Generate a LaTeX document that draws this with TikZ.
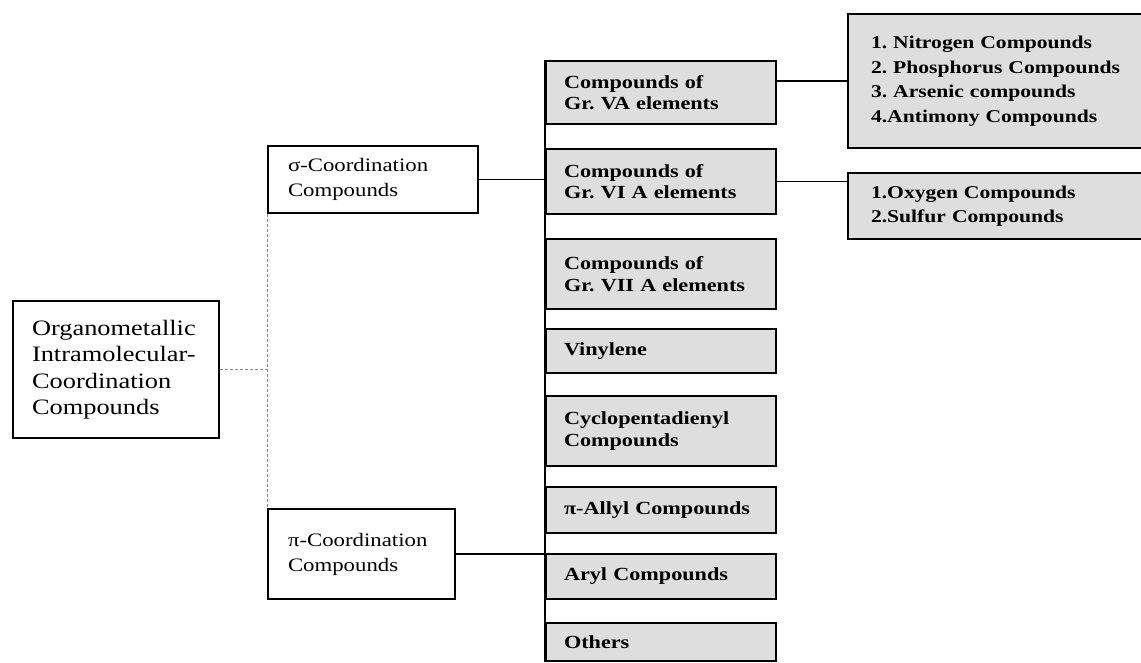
\documentclass[tikz,border=0pt]{standalone}
\usepackage{fontspec}
\setmainfont[FakeStretch=1.2]{Liberation Serif}
\usetikzlibrary{positioning}
\frenchspacing
\begin{document}
\begin{tikzpicture}[x=1pt, y=-1pt,
   plain/.style={draw, line width=2pt, anchor=north west, align=left,
                 inner xsep=20pt, inner ysep=2pt, font=\fontsize{19}{25}\selectfont},
   grey/.style={plain, fill=black!13, inner xsep=18pt, text width=194pt,
                font=\fontsize{18.5}{21.5}\selectfont\bfseries},
   wide/.style={grey, text width=263pt, inner xsep=23pt, font=\fontsize{18}{24.5}\selectfont\bfseries},
   link/.style={line width=1.6pt},
   faint/.style={black!45, line width=0.9pt, densely dashed}]
  \useasboundingbox (0,0) rectangle (1141,662);
  \clip (0,0) rectangle (1141,662);
  \node[plain, text width=168pt, inner xsep=19pt, minimum height=137pt, font=\fontsize{22}{26.5}\selectfont] (org) at (12,300)
       {Organometallic\\Intramolecular-\\Coordination\\Compounds};
  \node[plain, text width=170pt, minimum height=67pt] (sig) at (267,145)
       {σ-Coordination\\Compounds};
  \node[plain, text width=147pt, minimum height=90pt] (pic) at (267,508)
       {π-Coordination\\Compounds};
  \node[grey, minimum height=63pt] (gva)  at (545,60)  {Compounds of\\Gr.\ VA elements};
  \node[grey, minimum height=65pt] (gvia) at (545,148) {Compounds of\\Gr.\ VI A elements};
  \node[grey, minimum height=70pt] (gvii) at (545,238) {Compounds of\\Gr.\ VII A elements};
  \node[grey, minimum height=44pt] (vin)  at (545,328) {Vinylene};
  \node[grey, minimum height=70pt] (cyc)  at (545,395) {Cyclopentadienyl\\Compounds};
  \node[grey, minimum height=46pt] (ally) at (545,486) {π-Allyl Compounds};
  \node[grey, minimum height=45pt] (aryl) at (545,553) {Aryl Compounds};
  \node[grey, minimum height=38pt] (oth)  at (545,622) {Others};
  \node[wide, minimum height=134pt] (nit) at (847,13)
       {1. Nitrogen Compounds\\2. Phosphorus Compounds\\3. Arsenic compounds\\4.Antimony Compounds};
  \node[wide, minimum height=66pt] (oxy) at (847,172)
       {1.Oxygen Compounds\\2.Sulfur Compounds};
  \coordinate (lbus) at (org.east -| sig.west);
  \draw[faint] (org.east) -- (lbus);
  \draw[faint] (sig.south west) -- (pic.north west);
  \draw[link] (sig.east) -- (sig.east -| gva.west);
  \draw[link] (pic.east) -- (pic.east -| aryl.west);
  \draw[link] (gva.north west) -- (oth.south west);
  \draw[link] (nit.west -| gva.east) -- (nit.west);
  \draw[link] (gvia.east) -- (gvia.east -| oxy.west);
\end{tikzpicture}
\end{document}
